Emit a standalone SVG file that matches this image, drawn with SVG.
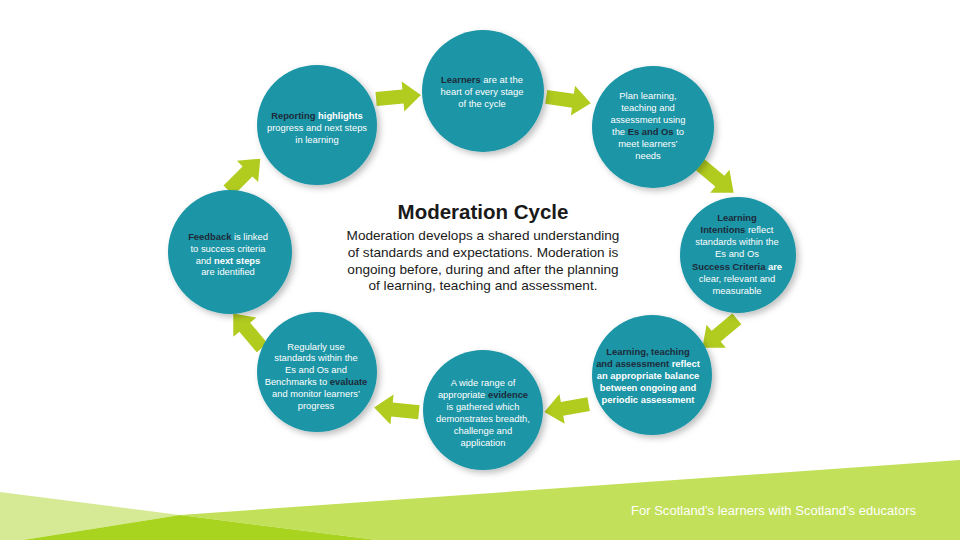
<svg xmlns="http://www.w3.org/2000/svg" width="960" height="540" viewBox="0 0 960 540">
<defs>
<style>
.c{fill:#1a95a6;filter:url(#sh)}
.t{font-family:"Liberation Sans",Arial,sans-serif;font-size:9.4px;fill:#ffffff;text-anchor:middle}
.d{fill:#1c2a3a;font-weight:bold}
.b{font-weight:bold}
.ar{fill:#b2cb1f}
.title{font-family:"Liberation Sans",Arial,sans-serif;font-size:20.5px;font-weight:bold;fill:#1a1a1a;text-anchor:middle}
.body{font-family:"Liberation Sans",Arial,sans-serif;font-size:13.6px;fill:#1a1a1a;text-anchor:middle}
</style>
<filter id="sh" x="-30%" y="-30%" width="160%" height="160%">
<feDropShadow dx="3" dy="3" stdDeviation="3" flood-color="#000000" flood-opacity="0.25"/>
</filter>
<path id="arrow" d="M-22,-7 L5,-7 L5,-15 L23,0 L5,15 L5,7 L-22,7 Z"/>
</defs>
<rect width="960" height="540" fill="#ffffff"/>
<g id="footer">
<polygon points="0,492 180,515 23,540 0,540" fill="#d6ea96"/>
<polygon points="180,515 960,460 960,540 377,540" fill="#c2e05a"/>
<polygon points="23,540 180,515 377,540" fill="#a8d420"/>
<text x="631" y="515" font-family="'Liberation Sans',Arial,sans-serif" font-size="12" fill="#ffffff" textLength="285" lengthAdjust="spacingAndGlyphs">For Scotland’s learners with Scotland’s educators</text>
</g>
<g id="connectors">
<use href="#arrow" class="ar" transform="translate(398,97) rotate(-5)"/>
<use href="#arrow" class="ar" transform="translate(568,100) rotate(8)"/>
<use href="#arrow" class="ar" transform="translate(716,178) rotate(40)"/>
<use href="#arrow" class="ar" transform="translate(720,333) rotate(140)"/>
<use href="#arrow" class="ar" transform="translate(567,408) rotate(170)"/>
<use href="#arrow" class="ar" transform="translate(397,410) rotate(186)"/>
<use href="#arrow" class="ar" transform="translate(248,331) rotate(230)"/>
<use href="#arrow" class="ar" transform="translate(244,175) rotate(-45)"/>
</g>
<g id="center">
<text class="title" x="483" y="219">Moderation Cycle</text>
<text class="body" x="483" y="240">Moderation develops a shared understanding</text>
<text class="body" x="483" y="257">of standards and expectations. Moderation is</text>
<text class="body" x="483" y="274">ongoing before, during and after the planning</text>
<text class="body" x="483" y="290">of learning, teaching and assessment.</text>
</g>
<g id="n-learners">
<circle class="c" cx="483" cy="91" r="61"/>
<text class="t" x="482" y="83"><tspan class="d">Learners</tspan> are at the</text>
<text class="t" x="482" y="95">heart of every stage</text>
<text class="t" x="482" y="107">of the cycle</text>
</g>
<g id="n-plan">
<circle class="c" cx="653" cy="127" r="61"/>
<text class="t" x="648" y="99">Plan learning,</text>
<text class="t" x="648" y="111">teaching and</text>
<text class="t" x="648" y="123">assessment using</text>
<text class="t" x="648" y="135">the <tspan class="d">Es and Os</tspan> to</text>
<text class="t" x="648" y="147">meet learners’</text>
<text class="t" x="648" y="159">needs</text>
</g>
<g id="n-intentions">
<circle class="c" cx="738" cy="255" r="58"/>
<text class="t" x="737" y="221"><tspan class="d">Learning</tspan></text>
<text class="t" x="737" y="233"><tspan class="d">Intentions</tspan> reflect</text>
<text class="t" x="737" y="245">standards within the</text>
<text class="t" x="737" y="257">Es and Os</text>
<text class="t" x="737" y="270"><tspan class="d">Success Criteria</tspan> <tspan class="b">are</tspan></text>
<text class="t" x="737" y="282">clear, relevant and</text>
<text class="t" x="737" y="294">measurable</text>
</g>
<g id="n-balance">
<circle class="c" cx="652" cy="375" r="60"/>
<text class="t b" x="648" y="355"><tspan class="d">Learning, teaching</tspan></text>
<text class="t b" x="648" y="367"><tspan class="d">and assessment</tspan> reflect</text>
<text class="t b" x="648" y="379">an appropriate balance</text>
<text class="t b" x="648" y="391">between ongoing and</text>
<text class="t b" x="648" y="403">periodic assessment</text>
</g>
<g id="n-evidence">
<circle class="c" cx="483" cy="410" r="60"/>
<text class="t" x="483" y="386">A wide range of</text>
<text class="t" x="483" y="398">appropriate <tspan class="d">evidence</tspan></text>
<text class="t" x="483" y="410">is gathered which</text>
<text class="t" x="483" y="422">demonstrates breadth,</text>
<text class="t" x="483" y="434">challenge and</text>
<text class="t" x="483" y="446">application</text>
</g>
<g id="n-standards">
<circle class="c" cx="317" cy="372" r="60"/>
<text class="t" x="316" y="350">Regularly use</text>
<text class="t" x="316" y="361">standards within the</text>
<text class="t" x="316" y="373">Es and Os and</text>
<text class="t" x="316" y="385">Benchmarks to <tspan class="d">evaluate</tspan></text>
<text class="t" x="316" y="397">and monitor learners’</text>
<text class="t" x="316" y="409">progress</text>
</g>
<g id="n-feedback">
<circle class="c" cx="230" cy="252" r="62"/>
<text class="t" x="228" y="240"><tspan class="d">Feedback</tspan> is linked</text>
<text class="t" x="228" y="252">to success criteria</text>
<text class="t" x="228" y="264">and <tspan class="b">next steps</tspan></text>
<text class="t" x="228" y="275">are identified</text>
</g>
<g id="n-reporting">
<circle class="c" cx="317" cy="125" r="60"/>
<text class="t" x="317" y="119"><tspan class="d">Reporting</tspan> <tspan class="b">highlights</tspan></text>
<text class="t" x="317" y="131">progress and next steps</text>
<text class="t" x="317" y="143">in learning</text>
</g>
</svg>
